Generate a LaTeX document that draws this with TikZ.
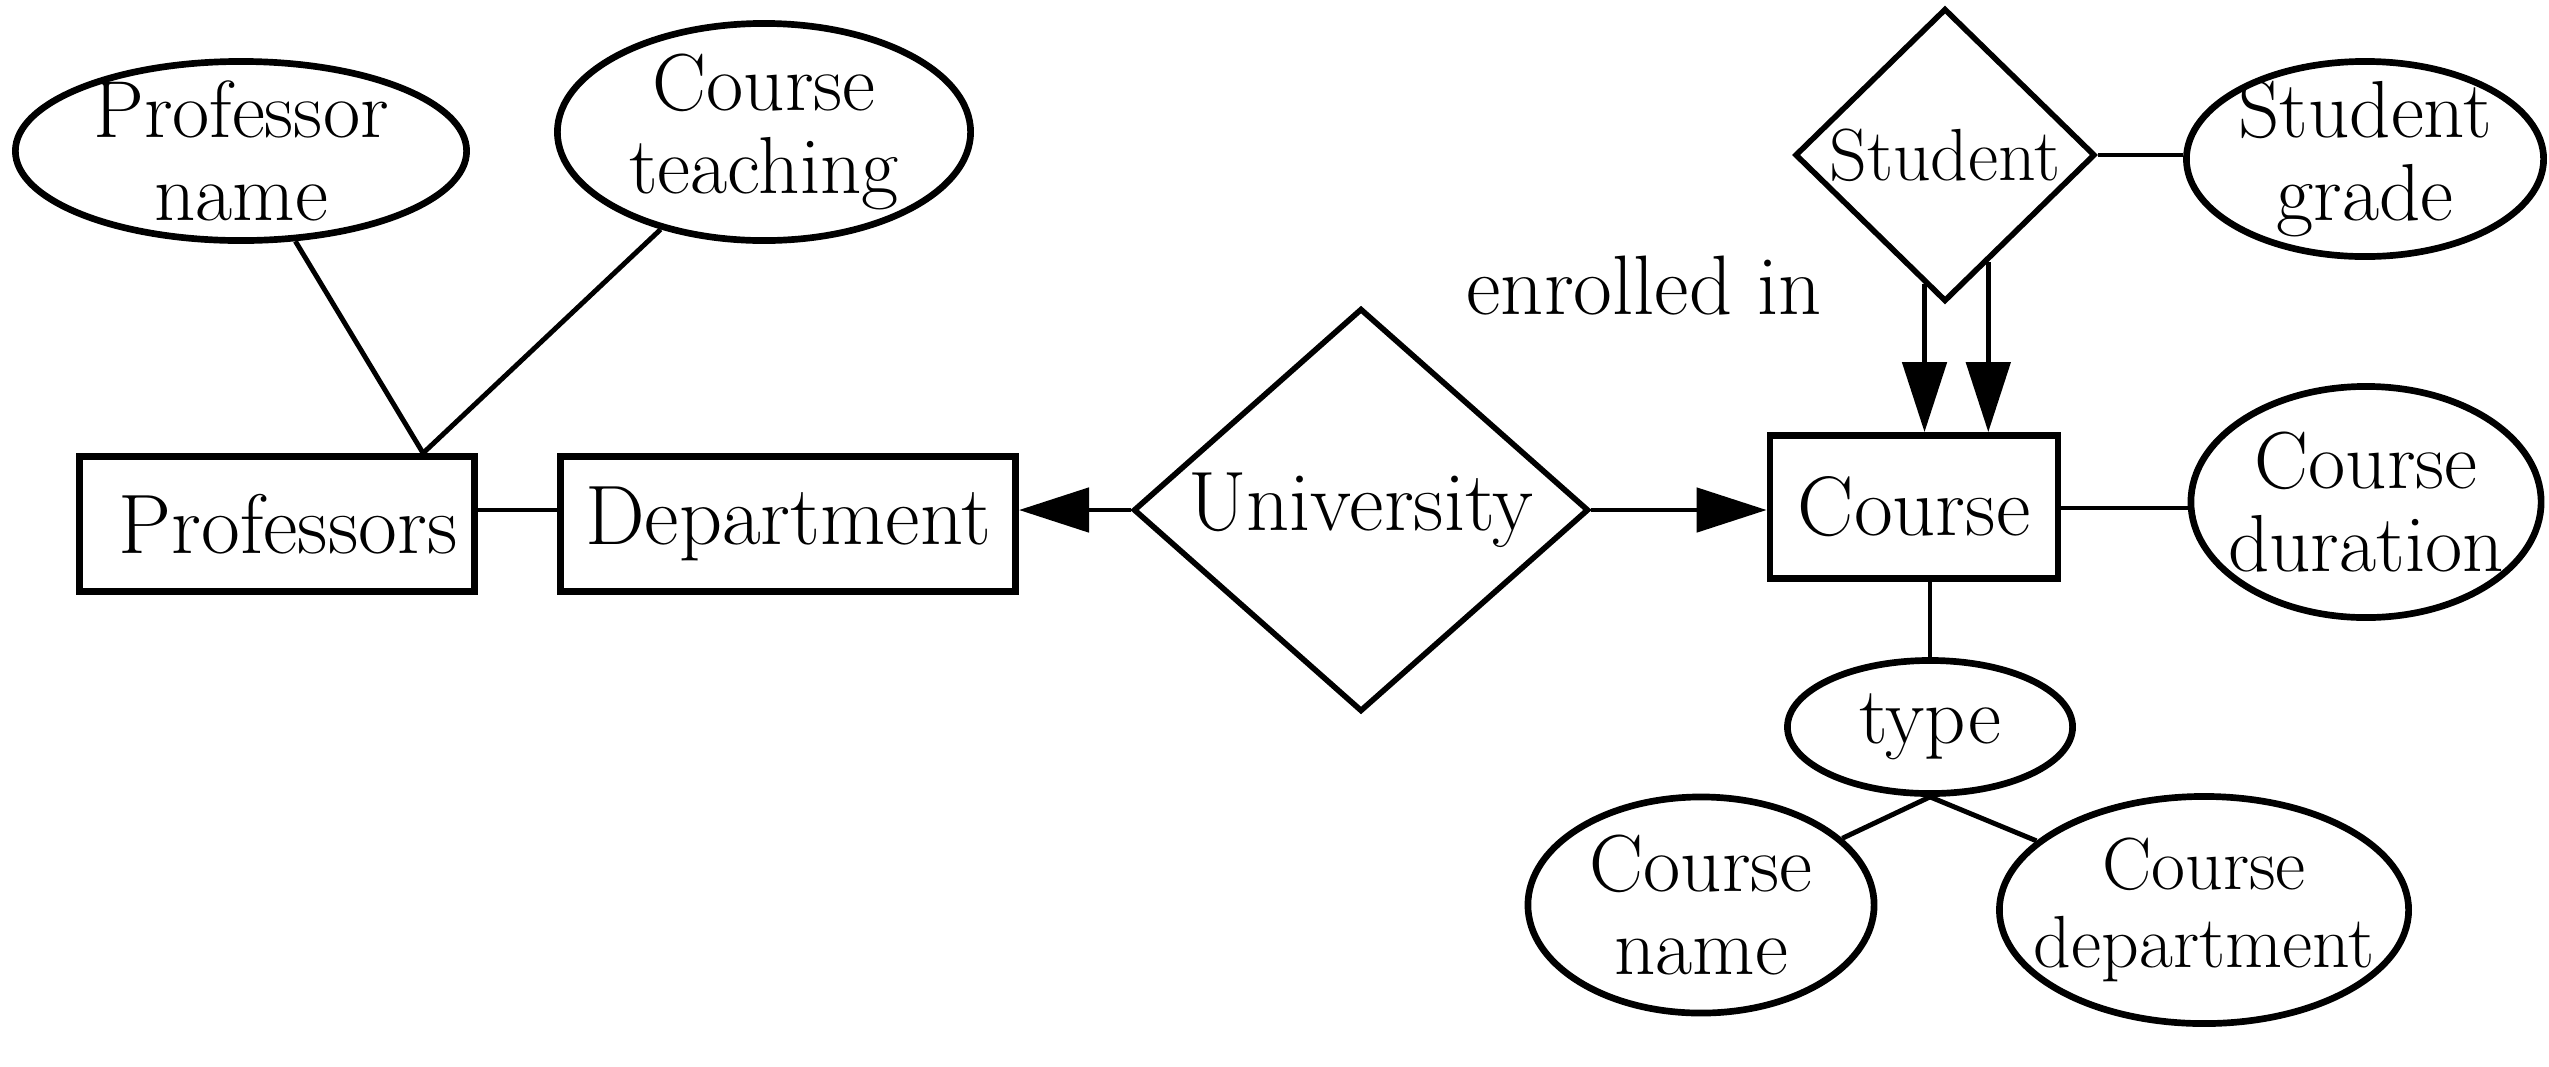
\documentclass[tikz,border=0pt]{standalone}
\usetikzlibrary{shapes.geometric,arrows.meta}
\begin{document}
\begin{tikzpicture}[x=0.01cm,y=-0.01cm,
  txt/.style={font=\fontsize{24}{25}\selectfont},
  atxt/.style={font=\fontsize{23}{23.5}\selectfont},
  stxt/.style={font=\fontsize{21}{22}\selectfont},
  attr/.style={ellipse,draw,line width=1.9pt,inner sep=-1.2cm,align=center,atxt},
  ent/.style={rectangle,draw,line width=1.9pt,inner sep=0pt,txt},
  rel/.style={diamond,draw,line width=1.6pt,inner sep=-1.2cm,txt},
  conn/.style={line width=1.4pt},
  arr/.style={conn,-{Triangle[length=0.7cm,width=0.44cm]}}]
\useasboundingbox (0,0) rectangle (2549,1066);
% attributes
\node[attr,minimum width=4.51cm,minimum height=1.79cm] (pname) at (241,151) {Professor\\name};
\node[attr,minimum width=4.13cm,minimum height=2.17cm] (cteach) at (764,132) {Course\\teaching};
\node[attr,minimum width=3.57cm,minimum height=1.95cm] (sgrade) at (2365,159) {Student\\grade};
\node[attr,minimum width=3.50cm,minimum height=2.31cm] (cdur) at (2366,502) {Course\\duration};
\node[attr,minimum width=2.85cm,minimum height=1.33cm] (type) at (1930,727) {type};
\node[attr,minimum width=3.46cm,minimum height=2.16cm] (cname) at (1701,905) {Course\\name};
\node[attr,stxt,minimum width=4.09cm,minimum height=2.27cm] (cdept) at (2204,910) {Course\\department};
% entities
\node[ent,minimum width=3.95cm,minimum height=1.35cm] (prof) at (277,524) {\hspace{0.22cm}Professors};
\node[ent,minimum width=4.55cm,minimum height=1.35cm] (dept) at (788,524) {Department};
\node[ent,minimum width=2.88cm,minimum height=1.43cm] (course) at (1914,507) {Course};
% relationships
\node[rel,minimum width=4.55cm,minimum height=4.03cm] (univ) at (1361,510) {University};
\node[rel,stxt,minimum width=3.00cm,minimum height=2.93cm] (student) at (1945,155) {Student};
% label
\node[txt,anchor=base west,inner sep=0pt] (enr) at (1466,314) {enrolled in};
% connectors
\draw[conn] (pname) -- ([xshift=1.46cm]prof.north);
\draw[conn] (cteach) -- ([xshift=1.46cm]prof.north);
\draw[conn] (prof.east |- univ.west) -- (dept.west |- univ.west);
\draw[arr] (univ.west) -- (univ.west -| dept.east);
\draw[arr] (univ.east) -- (univ.east -| course.west);
\draw[conn] (student.east) -- (student.east -| sgrade.west);
\draw[arr] (student.-99) -- (student.-99 |- course.north);
\draw[arr] (student.-68) -- (student.-68 |- course.north);
\draw[conn] ([yshift=-0.06cm]cdur.west -| course.east) -- ([yshift=-0.06cm]cdur.west);
\draw[conn] (type.north |- course.south) -- (type.north);
\draw[conn] (type.south) -- (cname);
\draw[conn] (type.south) -- (cdept);
\end{tikzpicture}
\end{document}
